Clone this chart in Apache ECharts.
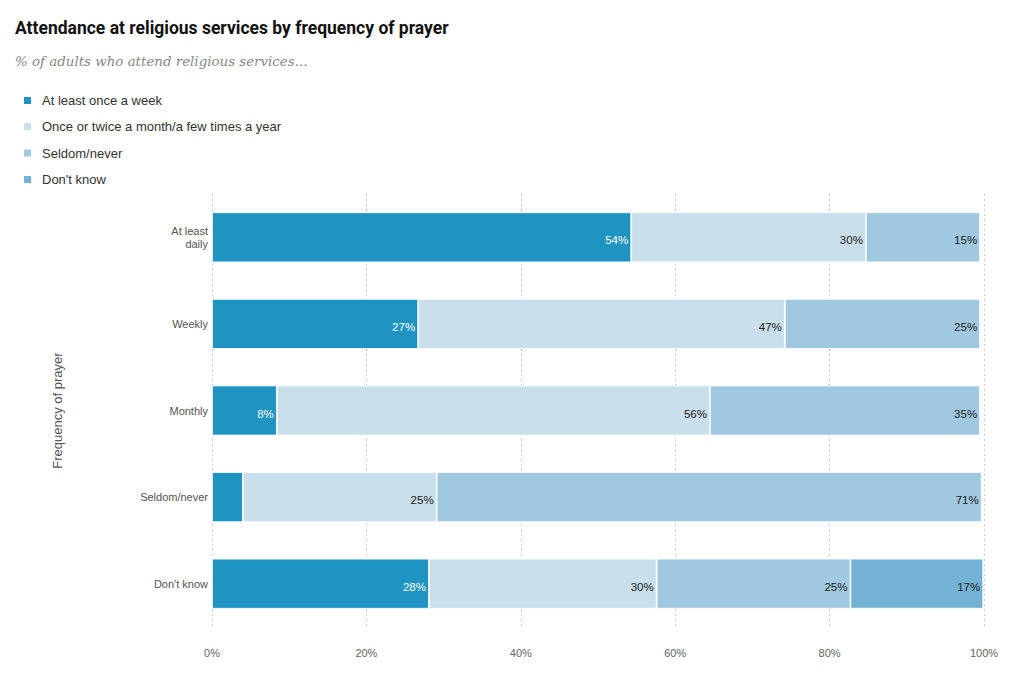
<!DOCTYPE html>
<html>
<head>
<meta charset="utf-8">
<script src="https://cdn.jsdelivr.net/npm/echarts@6/dist/echarts.min.js"></script>
<style>
  html, body { margin: 0; padding: 0; background: #fff; }
  #chart { width: 1018px; height: 687px; }
</style>
</head>
<body>
<div id="chart"></div>
<script>
var categories = ["At least\ndaily", "Weekly", "Monthly", "Seldom/never", "Don't know"];
var seriesNames = ["At least once a week", "Once or twice a month/a few times a year", "Seldom/never", "Don't know"];
var weekly = [54.3, 26.7, 8.4, 4.0, 28.1];
var monthlyYearly = [30.4, 47.5, 56.1, 25.1, 29.5];
var seldomNever = [14.8, 25.3, 35.0, 70.6, 25.1];
var dontKnow = [0, 0, 0, 0, 17.2];
var labelValues = [
  [54, 27, 8, null, 28],
  [30, 47, 56, 25, 30],
  [15, 25, 35, 71, 25],
  [null, null, null, null, 17]
];
var xTicks = [0, 20, 40, 60, 80, 100];

var colors = ["#1f93c1", "#c9dfec", "#a0c8e0", "#74b2d4"];
var seriesData = [weekly, monthlyYearly, seldomNever, dontKnow];

var chartDom = document.getElementById("chart");
var chart = echarts.init(chartDom, null, {renderer: "svg"});

var series = seriesData.map(function (vals, i) {
  return {
    name: seriesNames[i],
    type: "bar",
    stack: "total",
    barWidth: 50,
    data: vals,
    itemStyle: {color: colors[i], borderColor: "#ffffff", borderWidth: 0.8},
    label: {
      show: true,
      position: "insideRight",
      distance: 3,
      offset: [0, 3],
      color: i === 0 ? "#ffffff" : "#222222",
      fontSize: 11.5,
      fontFamily: "Liberation Sans",
      formatter: function (p) {
        var v = labelValues[i][p.dataIndex];
        return v == null ? "" : v + "%";
      }
    }
  };
});

chart.setOption({
  animation: false,
  title: [
    {
      text: "Attendance at religious services by frequency of prayer",
      left: 10, top: 14,
      textStyle: {fontFamily: "Roboto", fontWeight: "bold", fontSize: 17.5, color: "#111"}
    },
    {
      text: "% of adults who attend religious services...",
      left: 10, top: 50,
      textStyle: {fontFamily: "DejaVu Serif", fontStyle: "italic", fontWeight: "normal", fontSize: 13.4, color: "#888"}
    }
  ],
  legend: {
    orient: "vertical",
    left: 17, top: 89,
    itemWidth: 9, itemHeight: 9, itemGap: 13.3,
    icon: "rect",
    textStyle: {fontFamily: "Liberation Sans", fontSize: 13, color: "#333", padding: [0, 0, 0, 5]},
    data: seriesNames
  },
  grid: {left: 212, right: 34, top: 194, height: 433},
  xAxis: {
    type: "value",
    min: 0, max: 100, interval: 20,
    axisLine: {show: false},
    axisTick: {show: false},
    axisLabel: {
      margin: 20, fontSize: 11, color: "#666", fontFamily: "Liberation Sans",
      formatter: function (v) { return xTicks.indexOf(v) >= 0 ? v + "%" : ""; }
    },
    splitLine: {show: true, lineStyle: {type: [2, 3], color: "#cccccc", width: 1}}
  },
  yAxis: {
    type: "category",
    inverse: true,
    data: categories,
    name: "Frequency of prayer",
    nameLocation: "middle",
    nameGap: 148,
    nameRotate: 90,
    nameTextStyle: {fontFamily: "Liberation Sans", fontSize: 13, color: "#555"},
    axisLine: {show: false},
    axisTick: {show: false},
    axisLabel: {margin: 4, fontSize: 11, color: "#555", fontFamily: "Liberation Sans", lineHeight: 13}
  },
  series: series
});
</script>
</body>
</html>
